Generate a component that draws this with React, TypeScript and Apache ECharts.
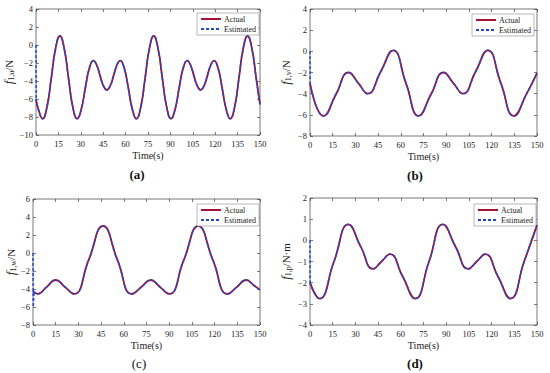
import React, { useEffect, useRef } from "react";
import * as echarts from "echarts";

// ---- data ----
const xTicksStep = 15;

const timeA = [0, 1.69, 4.42, 7.31, 10.21, 13.1, 16, 18.9, 21.79, 24.69, 27.58, 30.31, 33.02, 35.72, 38.45, 40.69, 42.93, 45.17, 47.42, 49.67, 51.91, 54.15, 56.39, 59.12, 61.82, 64.52, 67.25, 70.14, 73.04, 75.93, 78.83, 81.73, 84.62, 87.52, 90.41, 93.14, 95.85, 98.55, 101.28, 103.52, 105.76, 108.0, 110.25, 112.5, 114.74, 116.98, 119.22, 121.95, 124.65, 127.35, 130.08, 132.97, 135.87, 138.76, 141.66, 144.56, 147.45, 150];
const actualA = [-6.0, -7.2, -8.19, -6.92, -3.7, -0.39, 1.0, -0.39, -3.7, -6.92, -8.19, -7.14, -4.78, -2.59, -1.74, -2.25, -3.43, -4.55, -5.0, -4.55, -3.43, -2.25, -1.74, -2.59, -4.78, -7.14, -8.19, -6.92, -3.7, -0.39, 1.0, -0.39, -3.7, -6.92, -8.19, -7.14, -4.78, -2.59, -1.74, -2.25, -3.43, -4.55, -5.0, -4.55, -3.43, -2.25, -1.74, -2.59, -4.78, -7.14, -8.19, -6.92, -3.7, -0.39, 1.0, -0.39, -3.7, -6.6];
// initial transient of the estimate (starts at 0)
const estHeadTimeA = [0, 0.15];
const estHeadA = [0, -6.1];

const timeB = [0, 9.0, 17.2, 25.5, 31.9, 38.2, 46.6, 55.0, 63.4, 71.8, 80.0, 88.3, 94.7, 101.1, 109.3, 117.5, 126.1, 134.7, 143.0, 150];
const actualB = [-3.0, -6.1, -4.05, -2.0, -3.0, -4.0, -1.95, 0.1, -3.0, -6.1, -4.05, -2.0, -3.0, -4.0, -1.95, 0.1, -3.0, -6.1, -4.05, -2.05];
const estHeadTimeB = [0, 0.1];
const estHeadB = [0, -3.05];

const timeC = [0, 3.0, 9.0, 15.0, 21.1, 27.2, 36.75, 46.3, 55.85, 65.4, 71.6, 77.8, 83.9, 90.0, 99.6, 109.2, 118.9, 128.6, 134.7, 140.8, 146.0, 150];
const actualC = [-4.2, -4.55, -3.78, -3.0, -3.78, -4.55, -0.8, 3.0, -0.8, -4.55, -3.78, -3.0, -3.78, -4.55, -0.8, 3.0, -0.8, -4.55, -3.78, -3.0, -3.6, -4.1];
const estHeadTimeC = [0, 0.2, 0.7];
const estHeadC = [0, -6.0, -4.3];

const timeD = [0, 6.3, 15.85, 25.4, 33.55, 41.7, 47.25, 52.8, 61.15, 69.5, 78.65, 87.8, 96.2, 104.6, 110.2, 115.8, 124.15, 132.5, 141.5, 150];
const actualD = [-2.0, -2.75, -1.0, 0.75, -0.3, -1.35, -1.0, -0.65, -1.7, -2.75, -1.0, 0.75, -0.3, -1.35, -1.0, -0.65, -1.7, -2.75, -1.0, 0.72];
const estHeadTimeD = [0, 0.1];
const estHeadD = [0, -2.05];

const yRangeA = [-10, 4, 2];
const yRangeB = [-8, 4, 2];
const yRangeC = [-8, 6, 2];
const yRangeD = [-4, 2, 1];

const yNames = ["1,u", "1,v", "1,w", "1,p"];
const yUnits = ["/N", "/N", "/N", "/N·m"];
const panelLabels = ["(a)", "(b)", "(c)", "(d)"];
const legendNames = ["Actual", "Estimated"];

const FONT = "'Liberation Serif', 'DejaVu Serif', serif";
const ACTUAL_COLOR = "#A2142F";
const EST_COLOR = "#2448C8";

export default function App() {
  const ref = useRef<HTMLDivElement>(null);

  useEffect(() => {
    if (!ref.current) return;
    const chart = echarts.init(ref.current, undefined, { renderer: "svg" });

    const grids = [
      { left: 36, top: 9, width: 224, height: 126 },
      { left: 310, top: 9, width: 227, height: 127 },
      { left: 33, top: 199, width: 227, height: 126 },
      { left: 310, top: 198, width: 227, height: 127 },
    ];
    const times = [timeA, timeB, timeC, timeD];
    const actuals = [actualA, actualB, actualC, actualD];
    const headTimes = [estHeadTimeA, estHeadTimeB, estHeadTimeC, estHeadTimeD];
    const heads = [estHeadA, estHeadB, estHeadC, estHeadD];
    const ranges = [yRangeA, yRangeB, yRangeC, yRangeD];
    const nameGaps = [19, 18, 14, 18];
    const legendPos = [
      { left: 197, top: 13 },
      { left: 472, top: 14 },
      { left: 197, top: 204 },
      { left: 474, top: 204 },
    ];
    const labelPos = [
      [137, 174, "bold"],
      [415, 175, "bold"],
      [139, 363, "normal"],
      [415, 363, "bold"],
    ];

    const xAxis: any[] = [];
    const yAxis: any[] = [];
    const series: any[] = [];
    const legend: any[] = [];
    const graphic: any[] = [];
    const fmt = (v: number) => String(v).replace("-", "\u2212");
    const tick = { inside: true, length: 3, lineStyle: { color: "#444", width: 0.7 } };

    grids.forEach((g, i) => {
      const [ymin, ymax, ystep] = ranges[i];
      xAxis.push({
        type: "value", gridIndex: i, min: 0, max: 150, interval: xTicksStep, position: "bottom",
        name: "Time(s)", nameLocation: "middle", nameGap: 15,
        nameTextStyle: { fontFamily: FONT, fontSize: 10, color: "#222" },
        axisLine: { show: false, onZero: false },
        axisTick: tick,
        axisLabel: { fontFamily: FONT, fontSize: 8.5, color: "#222", margin: 4, formatter: fmt },
        splitLine: { show: false },
      });
      xAxis.push({
        type: "value", gridIndex: i, min: 0, max: 150, interval: xTicksStep, position: "top",
        axisLine: { show: false, onZero: false },
        axisTick: tick,
        axisLabel: { show: false }, splitLine: { show: false },
      });
      yAxis.push({
        type: "value", gridIndex: i, min: ymin, max: ymax, interval: ystep, position: "left",
        name: `{i|f}{s|${yNames[i]}}{n|${yUnits[i]}}`,
        nameLocation: "middle", nameRotate: 90, nameGap: nameGaps[i],
        nameTextStyle: {
          fontFamily: FONT, fontSize: 11, color: "#222",
          rich: {
            i: { fontFamily: FONT, fontStyle: "italic", fontSize: 12.5, color: "#222" },
            s: { fontFamily: FONT, fontSize: 8, color: "#222", padding: [5, 0, 0, 0] },
            n: { fontFamily: FONT, fontSize: 11, color: "#222" },
          },
        },
        axisLine: { show: false, onZero: false },
        axisTick: tick,
        axisLabel: { fontFamily: FONT, fontSize: 8.5, color: "#222", margin: 3, formatter: fmt },
        splitLine: { show: false },
      });
      yAxis.push({
        type: "value", gridIndex: i, min: ymin, max: ymax, interval: ystep, position: "right",
        axisLine: { show: false, onZero: false },
        axisTick: tick,
        axisLabel: { show: false }, splitLine: { show: false },
      });

      const act = times[i].map((t, k) => [t, actuals[i][k]]);
      const head = headTimes[i].map((t, k) => [t, heads[i][k]]);
      series.push({
        name: legendNames[0], type: "line", xAxisIndex: 2 * i, yAxisIndex: 2 * i,
        data: act, smooth: 0.5, symbol: "none",
        lineStyle: { color: ACTUAL_COLOR, width: 1.8 }, itemStyle: { color: "rgba(0,0,0,0)" },
      });
      series.push({
        name: legendNames[1], type: "line", xAxisIndex: 2 * i, yAxisIndex: 2 * i,
        data: act, smooth: 0.5, symbol: "none",
        lineStyle: { color: EST_COLOR, width: 1.5, type: [3, 2] }, itemStyle: { color: "rgba(0,0,0,0)" },
      });
      // initial transient of the estimate, drawn straight
      series.push({
        name: legendNames[1], type: "line", xAxisIndex: 2 * i, yAxisIndex: 2 * i,
        data: head, smooth: false, symbol: "none",
        lineStyle: { color: EST_COLOR, width: 1.5, type: [3, 2] }, itemStyle: { color: "rgba(0,0,0,0)" },
      });

      legend.push({
        data: legendNames, orient: "vertical", ...legendPos[i],
        itemWidth: 20, itemHeight: 6, itemGap: 2, padding: [2, 3, 2, 3],
        borderColor: "#8c8c8c", borderWidth: 0.6, backgroundColor: "#fff",
        selectedMode: false,
        itemStyle: { opacity: 0, borderWidth: 0 },
        textStyle: { fontFamily: FONT, fontSize: 8, color: "#222", padding: [0, 0, 0, -2] },
      });

      const [lx, ly, fw] = labelPos[i] as [number, number, string];
      graphic.push({
        type: "text", x: lx, y: ly,
        style: {
          text: panelLabels[i], fontFamily: FONT, fontSize: 13, fontWeight: fw,
          fill: "#111", textAlign: "center", textVerticalAlign: "middle",
        },
      });
    });

    chart.setOption({
      animation: false,
      backgroundColor: "#fff",
      grid: grids.map((g) => ({ ...g, show: true, borderColor: "#555", borderWidth: 0.8, backgroundColor: "transparent" })),
      xAxis, yAxis, series, legend, graphic,
    });

    return () => chart.dispose();
  }, []);

  return (
    <div
      ref={ref}
      style={{ position: "fixed", left: 0, top: 0, width: 550, height: 373, background: "#fff" }}
    />
  );
}
